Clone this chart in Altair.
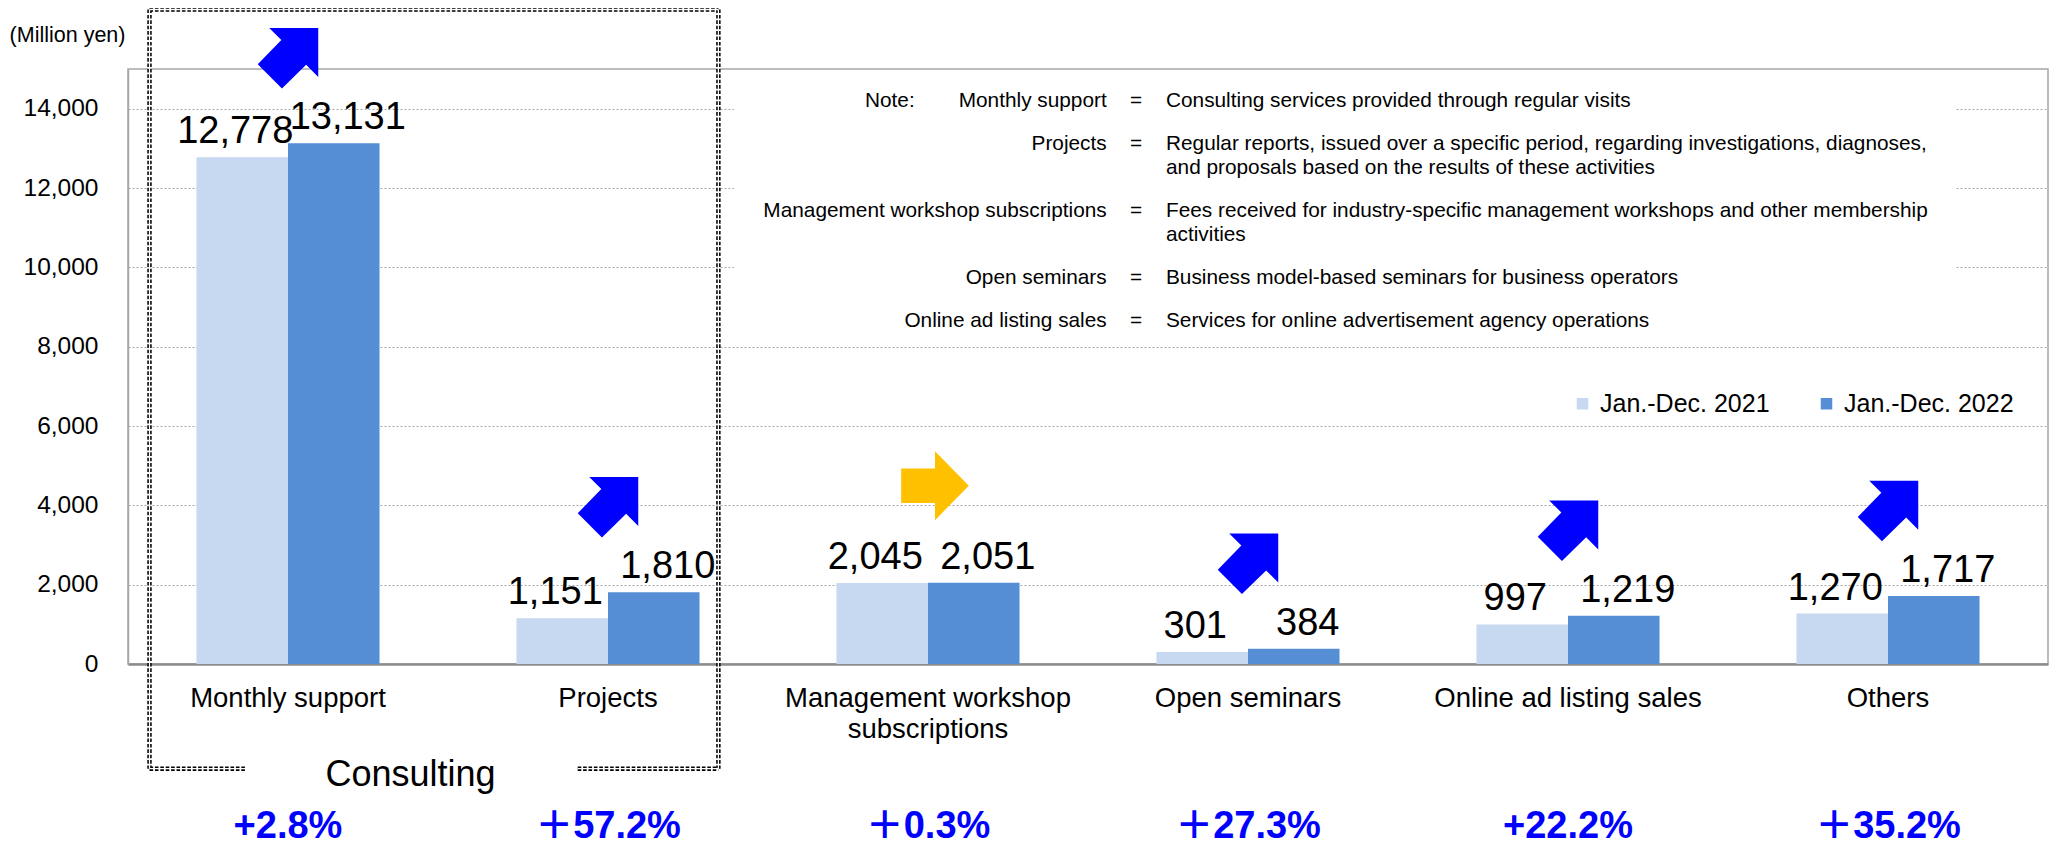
import altair as alt
import pandas as pd

# ---------------- data ----------------
categories = ["Monthly support", "Projects", "Management workshop subscriptions",
              "Open seminars", "Online ad listing sales", "Others"]
years = ["Jan.-Dec. 2021", "Jan.-Dec. 2022"]
sales_2021 = [12778, 1151, 2045, 301, 997, 1270]
sales_2022 = [13131, 1810, 2051, 384, 1219, 1717]
growth_labels = ["+2.8%", "＋57.2%", "＋0.3%", "＋27.3%", "+22.2%", "＋35.2%"]
trend = ["up", "up", "flat", "up", "up", "up"]
y_ticks = [0, 2000, 4000, 6000, 8000, 10000, 12000, 14000]

unit_label = "(Million yen)"
group_label = "Consulting"
note_label = "Note:"
note_terms = ["Monthly support", "Projects", "Management workshop subscriptions",
              "Open seminars", "Online ad listing sales"]
note_descs = [
    "Consulting services provided through regular visits",
    "Regular reports, issued over a specific period, regarding investigations, diagnoses,\nand proposals based on the results of these activities",
    "Fees received for industry-specific management workshops and other membership\nactivities",
    "Business model-based seminars for business operators",
    "Services for online advertisement agency operations",
]

# ---------------- styling / layout ----------------
FONT = "Liberation Sans"
FONT_CJK = "Liberation Sans, Noto Sans CJK JP"
W, H = 1920, 595
C2021, C2022 = "#C6D9F0", "#558ED5"
BLUE, YELLOW = "#0000FF", "#FFC000"
NOTE_FS = 20.8
UP_PATH = "M -0.62 -1 L 1 -1 L 1 0.62 L 0.6 0.22 L -0.2 1 L -1 0.2 L -0.22 -0.6 Z"
FLAT_PATH = "M -0.98 -0.5 L 0 -0.5 L 0 -1 L 0.98 0 L 0 1 L 0 0.5 L -0.98 0.5 Z"

bars = pd.DataFrame({
    "category": categories * 2,
    "year": [years[0]] * len(categories) + [years[1]] * len(categories),
    "value": sales_2021 + sales_2022,
})
growth = pd.DataFrame({
    "category": categories,
    "v2022": sales_2022,
    "growth": growth_labels,
    "trend": trend,
})

# note table layout (pixel positions relative to plot origin)
NOTE_Y0, NOTE_GAP, NOTE_LH = 37.7, 43.4, 23.5
ypix, extra = [], 0
for i, d in enumerate(note_descs):
    ypix.append(NOTE_Y0 + i * NOTE_GAP + extra * NOTE_LH)
    extra += d.count("\n")
notes = pd.DataFrame({"term": note_terms, "desc": note_descs, "ypix": ypix})

# dashed "Consulting" frame (pixel positions relative to plot origin)
BL, BR, BT, BB, GL, GR = 21.5, 590.4, -59.5, 699.7, 117, 449.7
frame = pd.DataFrame({
    "x": [BL, BL, BR, BL, GR],
    "x2": [BL, BR, BR, GL, BR],
    "y": [BT, BT, BT, BB, BB],
    "y2": [BB, BT, BB, BB, BB],
})

# split long category names onto two lines
wrap = {}
for c in categories:
    if len(c) > 26:
        k = c.rfind(" ")
        wrap[c] = (c[:k], c[k + 1:])
label_expr = "datum.label"
for c, (a, b) in wrap.items():
    label_expr = f"datum.label == '{c}' ? ['{a}', '{b}'] : " + label_expr

xscale = alt.Scale(domain=categories, paddingInner=0.428, paddingOuter=0.214)
yscale = alt.Scale(domain=[0, 15000], nice=False)

x_enc = alt.X(
    "category:N", scale=xscale, sort=categories, title=None,
    axis=alt.Axis(labelFontSize=27.5, labelColor="black", labelPadding=20, ticks=False,
                  domainColor="#8C8C8C", domainWidth=2.6, labelAngle=0,
                  labelLineHeight=31, labelExpr=label_expr, labelLimit=600, grid=False),
)
y_enc = alt.Y(
    "value:Q", scale=yscale,
    axis=alt.Axis(values=y_ticks, format=",d", labelFontSize=24.5, labelColor="black",
                  labelPadding=30, ticks=False, domainColor="#A6A6A6", domainWidth=1.5,
                  grid=True, gridColor="#A6A6A6", gridDash=[2, 2], gridWidth=1,
                  title=unit_label, titleAngle=0, titleX=-61, titleY=-34,
                  titleAlign="center", titleBaseline="middle", titleFontSize=21.5,
                  titleFontWeight="normal", titleColor="black"),
)
xoff = alt.XOffset("year:N", scale=alt.Scale(domain=years, paddingInner=0, paddingOuter=0))

mask = alt.Chart(pd.DataFrame({"m": [0]})).mark_rect(color="white").encode(
    x=alt.value(606), x2=alt.value(1828), y=alt.value(2), y2=alt.value(270)
)

bar_layer = alt.Chart(bars).mark_bar().encode(
    x=x_enc, xOffset=xoff, y=y_enc,
    color=alt.Color(
        "year:N", scale=alt.Scale(domain=years, range=[C2021, C2022]),
        legend=alt.Legend(title=None, orient="none", legendX=1442, legendY=322,
                          direction="horizontal", symbolType="square", symbolSize=132,
                          symbolStrokeWidth=0, labelFontSize=25, labelColor="black",
                          columnPadding=44, labelOffset=5, padding=0, labelLimit=400),
    ),
)

def value_labels(year, dx):
    return alt.Chart(bars).transform_filter(alt.datum.year == year).mark_text(
        dx=dx, dy=-14, baseline="alphabetic", fontSize=38, color="black"
    ).encode(x=x_enc, xOffset=xoff, y=y_enc, text=alt.Text("value:Q", format=",d"))

lab21 = value_labels(years[0], -7)
lab22 = value_labels(years[1], 14)

arrow_up = alt.Chart(growth).transform_filter(alt.datum.trend == "up").mark_point(
    shape=UP_PATH, size=3660, filled=True, opacity=1, color=BLUE, strokeWidth=0, yOffset=-85
).encode(x=x_enc, y=alt.Y("v2022:Q", scale=yscale))

arrow_flat = alt.Chart(growth).transform_filter(alt.datum.trend == "flat").mark_point(
    shape=FLAT_PATH, size=4761, filled=True, opacity=1, color=YELLOW, strokeWidth=0,
    yOffset=-97, xOffset=7
).encode(x=x_enc, y=alt.Y("v2022:Q", scale=yscale))

pct = alt.Chart(growth).mark_text(
    fontSize=38, fontWeight="bold", color=BLUE, baseline="alphabetic", font=FONT_CJK
).encode(x=x_enc, y=alt.value(769), text="growth:N")

note_head = alt.Chart(pd.DataFrame({"t": [note_label]})).mark_text(
    align="left", baseline="alphabetic", fontSize=NOTE_FS, color="black"
).encode(x=alt.value(737), y=alt.value(NOTE_Y0), text="t:N")

note_term = alt.Chart(notes).mark_text(
    align="right", baseline="alphabetic", fontSize=NOTE_FS, color="black"
).encode(x=alt.value(978.7), y=alt.Y("ypix:Q", scale=None), text="term:N")

note_eq = alt.Chart(notes).mark_text(
    align="center", baseline="alphabetic", fontSize=NOTE_FS, color="black"
).encode(x=alt.value(1008), y=alt.Y("ypix:Q", scale=None), text=alt.value("="))

note_desc = alt.Chart(notes).mark_text(
    align="left", baseline="alphabetic", fontSize=NOTE_FS, color="black",
    lineBreak="\n", lineHeight=23.5
).encode(x=alt.value(1038), y=alt.Y("ypix:Q", scale=None), text="desc:N")

consulting = alt.Chart(pd.DataFrame({"t": [group_label]})).mark_text(
    align="center", baseline="alphabetic", fontSize=36, color="black"
).encode(x=alt.value(282.5), y=alt.value(717), text="t:N")

frame_dark = alt.Chart(frame).mark_rule(color="#000000", strokeWidth=4.4, strokeDash=[3.6, 1.8]).encode(
    x=alt.X("x:Q", scale=None), x2="x2:Q", y=alt.Y("y:Q", scale=None), y2="y2:Q"
)
frame_light = alt.Chart(frame).mark_rule(color="white", strokeWidth=1.3).encode(
    x=alt.X("x:Q", scale=None), x2="x2:Q", y=alt.Y("y:Q", scale=None), y2="y2:Q"
)

chart = alt.layer(
    mask, bar_layer, lab21, lab22, arrow_up, arrow_flat, pct,
    note_head, note_term, note_eq, note_desc, consulting, frame_dark, frame_light
).properties(
    width=W, height=H, autosize="none",
    padding={"left": 120, "top": 61, "right": 2, "bottom": 187},
).configure(font=FONT).configure_view(stroke="#A6A6A6", strokeWidth=1.5)

chart.save("out.html", embed_options={"renderer": "svg", "actions": False})
